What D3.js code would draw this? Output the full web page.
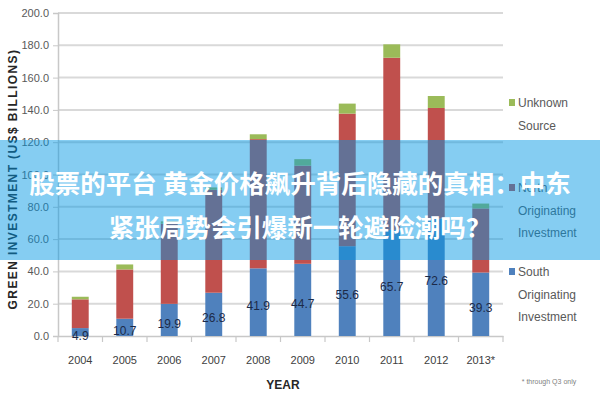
<!DOCTYPE html>
<html><head><meta charset="utf-8">
<script src="https://cdn.jsdelivr.net/npm/d3@7/dist/d3.min.js"></script>
<style>body{margin:0;background:#fff}svg{display:block}</style>
</head><body>
<script>
const years = ["2004","2005","2006","2007","2008","2009","2010","2011","2012","2013*"];
const south = [4.9,10.7,19.9,26.8,41.9,44.7,55.6,65.7,72.6,39.3];
const north = [17.8,30.5,49.6,63.7,80.0,60.8,82.1,106.6,68.6,39.7];
const unknown = [1.6,3.1,1.5,1.5,3.0,4.0,6.2,8.3,7.4,3.0];
const yTicks = [0,20,40,60,80,100,120,140,160,180,200];
const titleLines = ["股票的平台 黄金价格飙升背后隐藏的真相：中东","紧张局势会引爆新一轮避险潮吗？"];

const W=600,H=400;
const colors = {south:"#4f81bd", north:"#c0504d", unknown:"#9bbb59"};
const svg = d3.select("body").append("svg").attr("width",W).attr("height",H);
const font = "'Liberation Sans Narrow','Liberation Sans',Arial,sans-serif";

const x = d3.scaleBand().domain(years).range([58,503]).paddingInner(0.62).paddingOuter(0.31);
const xb = d3.scaleBand().domain(years).range([58,503]);
const y = d3.scaleLinear().domain([0,200]).range([336,13]);

// gridlines
svg.append("g").selectAll("line").data(yTicks.filter(d=>d>0)).join("line")
  .attr("x1",58).attr("x2",503).attr("y1",d=>y(d)).attr("y2",d=>y(d))
  .attr("stroke","#d9d9d9").attr("stroke-width",2);

// y axis
const yAxis = d3.axisLeft(y).tickValues(yTicks).tickFormat(d3.format(".1f")).tickSize(5).tickPadding(4);
const gy = svg.append("g").attr("transform","translate(58,0)").call(yAxis);
gy.select(".domain").attr("stroke","#c8c8c8").attr("stroke-width",1.5);
gy.selectAll(".tick line").attr("stroke","#c8c8c8");
gy.selectAll("text").attr("font-family",font).attr("font-size",11).attr("fill","#595959");

// x axis
const xAxis = d3.axisBottom(xb).tickSize(0).tickPadding(20);
const gx = svg.append("g").attr("transform","translate(0,336)").call(xAxis);
gx.select(".domain").attr("stroke","#c8c8c8").attr("stroke-width",1.5);
gx.selectAll("text").attr("font-family",font).attr("font-size",11).attr("fill","#404040");
svg.append("g").selectAll("line").data(years.concat(["end"])).join("line")
  .attr("x1",(d,i)=>58+xb.step()*i).attr("x2",(d,i)=>58+xb.step()*i)
  .attr("y1",336).attr("y2",342).attr("stroke","#c8c8c8").attr("stroke-width",1.2);

// stacked data
const rows = years.map((yr,i)=>({year:yr, south:south[i], north:north[i], unknown:unknown[i]}));
const stack = d3.stack().keys(["south","north","unknown"])(rows);
svg.append("g").selectAll("g").data(stack).join("g")
  .attr("fill",d=>colors[d.key])
  .selectAll("rect").data(d=>d).join("rect")
  .attr("x",d=>x(d.data.year)).attr("width",x.bandwidth())
  .attr("y",d=>y(d[1])).attr("height",d=>y(d[0])-y(d[1]));

// data labels for south
svg.append("g").selectAll("text").data(rows).join("text")
  .attr("x",d=>x(d.year)+x.bandwidth()/2).attr("y",d=>y(d.south/2)+4)
  .attr("text-anchor","middle").attr("dominant-baseline","central")
  .attr("font-family",font).attr("font-size",12).attr("fill","#1c2a48")
  .text(d=>d3.format(".1f")(d.south));

// y axis title
svg.append("text").attr("transform","translate(13,179) rotate(-90)")
  .attr("text-anchor","middle").attr("dominant-baseline","central")
  .attr("font-family","'Liberation Sans',Arial,sans-serif").attr("font-weight","bold")
  .attr("font-size",12).attr("letter-spacing",1.4).attr("fill","#262626")
  .text("GREEN INVESTMENT (US$ BILLIONS)");

// x axis title
svg.append("text").attr("x",283).attr("y",389).attr("text-anchor","middle")
  .attr("font-family",font).attr("font-weight","bold").attr("font-size",12).attr("fill","#262626")
  .text("YEAR");

svg.append("text").attr("x",549).attr("y",384).attr("text-anchor","middle")
  .attr("font-family",font).attr("font-size",7).attr("fill","#7f7f7f")
  .text("* through Q3 only");

// legend
const legend = [
  {key:"unknown", lines:["Unknown","Source"], y:103},
  {key:"north", lines:["North","Originating","Investment"], y:188},
  {key:"south", lines:["South","Originating","Investment"], y:272}
];
const lg = svg.append("g").selectAll("g").data(legend).join("g");
lg.append("rect").attr("x",509).attr("y",d=>d.y-4).attr("width",6).attr("height",7)
  .attr("fill",d=>colors[d.key]);
lg.each(function(d){
  d3.select(this).selectAll("text").data(d.lines).join("text")
    .attr("x",518).attr("y",(t,i)=>d.y+i*22.5).attr("dominant-baseline","central")
    .attr("font-family",font).attr("font-size",12).attr("fill","#595959").text(t=>t);
});

// overlay banner
svg.append("rect").attr("x",0).attr("y",140).attr("width",W).attr("height",120)
  .attr("fill","rgb(0,150,228)").attr("fill-opacity",0.48);
svg.append("g").selectAll("text").data(titleLines).join("text")
  .attr("x",300).attr("y",(d,i)=>181+i*44).attr("text-anchor","middle").attr("dominant-baseline","central")
  .attr("font-family","'Noto Sans CJK SC',sans-serif").attr("font-weight","bold")
  .attr("font-size",25.5).attr("fill","#fff").text(d=>d);
</script>
</body></html>
